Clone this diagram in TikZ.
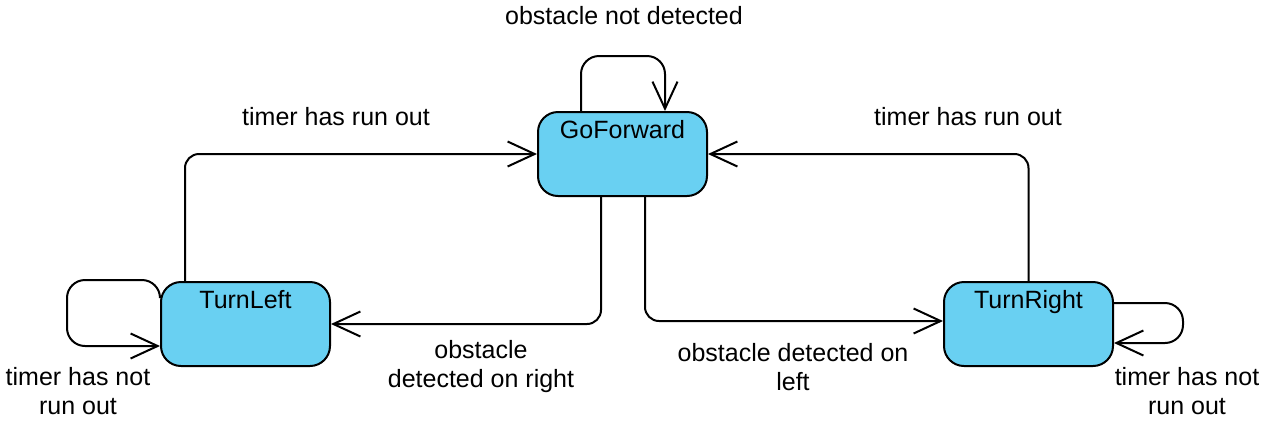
\documentclass[tikz,border=0pt]{standalone}
\usepackage{fontspec}
\setmainfont{Liberation Sans}
\usetikzlibrary{arrows.meta}
\definecolor{stateblue}{RGB}{105,208,242}
\begin{document}
\begin{tikzpicture}[x=0.5pt,y=-0.5pt,>={Straight Barb[length=13.5pt,width=12.5pt]},
	state/.style={draw,line width=1pt,fill=stateblue,rounded corners=10pt,minimum width=84.5pt,minimum height=42pt,inner ysep=0pt,text height=13pt,text depth=29pt},
	trans/.style={line width=1pt,->,rounded corners=7pt},
	lbl/.style={align=center,inner sep=0pt}]
	\useasboundingbox (0,0) rectangle (1266,420);
	\fontsize{12.5}{14.5}\selectfont
	\node[state](go) at (622.5,154){GoForward};
	\node[state](tl) at (245.5,324){TurnLeft};
	\node[state](tr) at (1028.5,324){TurnRight};
	\draw[trans]([xshift=12.5pt]tl.north west) |- (go.west);
	\draw[trans](tr.north) |- (go.east);
	\draw[trans]([xshift=-10.75pt]go.south) |- (tl.east);
	\draw[trans]([xshift=11.25pt]go.south) |- ([yshift=1.5pt]tr.west);
	\draw[trans,rounded corners=9pt]([xshift=-20.75pt]go.north) -- ++(0,-55) -| ([xshift=21.25pt]go.north);
	\draw[trans,rounded corners=9pt]([yshift=14pt]tl.west) |- ++(-93,-16) |- ([yshift=-11pt]tl.west);
	\draw[trans,rounded corners=9pt]([yshift=10.5pt]tr.east) -- ++(69,0) -- ++(0,40) -- ([yshift=-9.5pt]tr.east);
	\node[lbl](goloop) at (624,16){obstacle not detected};
	\node[lbl](tlrun) at (336,117){timer has run out};
	\node[lbl](trrun) at (968,117){timer has run out};
	\node[lbl](right) at (481,367){obstacle\\detected on right};
	\node[lbl](left) at (793,367){obstacle detected on\\left};
	\node[lbl](tlloop) at (78,391){timer has not\\run out};
	\node[lbl](trloop) at (1187,391){timer has not\\run out};
\end{tikzpicture}
\end{document}
